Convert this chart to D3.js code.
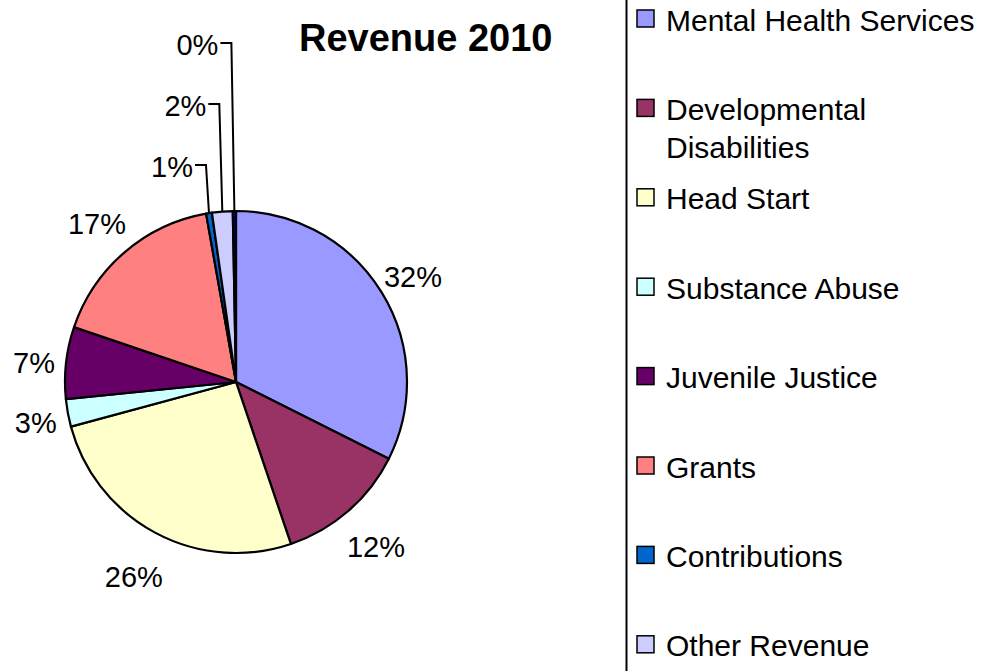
<!DOCTYPE html>
<html>
<head>
<meta charset="utf-8">
<script src="https://cdn.jsdelivr.net/npm/d3@7"></script>
<style>
  body { margin: 0; background: #fff; }
  svg { display: block; font-family: "Liberation Sans", Arial, sans-serif; }
</style>
</head>
<body>
<div id="chart"></div>
<script>
// revenue categories, in the order the pie is drawn (clockwise from 12 o'clock)
var categories = ['Mental Health Services', 'Developmental Disabilities', 'Head Start',
    'Substance Abuse', 'Juvenile Justice', 'Grants', 'Contributions', 'Other Revenue', 'Miscellaneous'];
// share of revenue, percent
var values = [32.4, 12.4, 26.0, 2.6, 6.8, 17.0, 0.55, 1.95, 0.3];
var colors = ['#9999ff', '#993366', '#ffffcc', '#ccffff', '#660066', '#ff8080', '#0066cc', '#ccccff', '#000080'];
var title = 'Revenue 2010';

var width = 983, height = 671;
var svg = d3.select('#chart')
    .append('svg')
    .attr('width', width)
    .attr('height', height);

var cx = 236, cy = 382, radius = 171;

var total = d3.sum(values);
var data = categories.map(function(c, i) {
    return { name: c, value: values[i], color: colors[i] };
});

var pie = d3.pie().sort(null).value(function(d) { return d.value; });
var arc = d3.arc().innerRadius(0).outerRadius(radius);
var arcs = pie(data);

var g = svg.append('g').attr('transform', 'translate(' + cx + ',' + cy + ')');

g.selectAll('path')
    .data(arcs)
    .enter()
    .append('path')
    .attr('d', arc)
    .attr('fill', function(d) { return d.data.color; })
    .attr('stroke', '#000')
    .attr('stroke-width', 2.2)
    .attr('stroke-linejoin', 'round');

// percentage labels
var pct = function(d) { return Math.round(d.data.value / total * 100) + '%'; };
var mid = function(d) { return (d.startAngle + d.endAngle) / 2; };
var isSmall = function(d) { return d.data.value / total < 0.025; };

var big = arcs.filter(function(d) { return !isSmall(d); });
var small = arcs.filter(isSmall);

// labels sit a bit closer to the pie at the sides than at top/bottom
var labelR = function(d) {
    var s = Math.sin(mid(d));
    return radius + 50 - 18 * s * s;
};

g.selectAll('.lbl')
    .data(big)
    .enter()
    .append('text')
    .attr('class', 'lbl')
    .attr('x', function(d) { return labelR(d) * Math.sin(mid(d)); })
    .attr('y', function(d) { return -labelR(d) * Math.cos(mid(d)) + 4; })
    .attr('text-anchor', 'middle')
    .attr('dominant-baseline', 'central')
    .attr('font-size', '29px')
    .text(pct);

// tiny slices get stacked labels above the pie with leader lines
small.forEach(function(d, j) {
    var px = radius * Math.sin(mid(d));
    var py = -radius * Math.cos(mid(d));
    var ly = -radius - 46 - j * 61;
    var ex = px - 3;
    g.append('polyline')
        .attr('points', [[px, py], [ex, ly], [ex - 11, ly]].join(' '))
        .attr('fill', 'none')
        .attr('stroke', '#000')
        .attr('stroke-width', 2);
    g.append('text')
        .attr('x', ex - 13)
        .attr('y', ly + 2)
        .attr('text-anchor', 'end')
        .attr('dominant-baseline', 'central')
        .attr('font-size', '29px')
        .text(pct(d));
});

// title
svg.append('text')
    .attr('x', 299)
    .attr('y', 51)
    .attr('font-size', '38px')
    .attr('font-weight', 'bold')
    .text(title);

// legend (box runs past the bottom of the picture, entries below it are not shown)
svg.append('line')
    .attr('x1', 626.5).attr('x2', 626.5)
    .attr('y1', 0).attr('y2', height)
    .attr('stroke', '#000')
    .attr('stroke-width', 2);

var top0 = 18.5, step = 89.4;
var shown = data.filter(function(d, i) { return top0 + i * step + 20 < height; });

var item = svg.append('g').selectAll('.item')
    .data(shown)
    .enter()
    .append('g')
    .attr('class', 'item')
    .attr('transform', function(d, i) { return 'translate(637,' + (top0 + i * step) + ')'; });

item.append('rect')
    .attr('x', 0)
    .attr('y', -8.5)
    .attr('width', 17)
    .attr('height', 17)
    .attr('fill', function(d) { return d.color; })
    .attr('stroke', '#000')
    .attr('stroke-width', 1.5);

item.append('text')
    .attr('x', 29)
    .attr('y', 1)
    .attr('dominant-baseline', 'central')
    .attr('font-size', '30px')
    .each(function(d) {
        // simple word wrap to the space right of the marker
        var el = d3.select(this);
        var words = d.name.split(' ');
        var line = [];
        var tspan = el.append('tspan').attr('x', 29).attr('dy', 0);
        words.forEach(function(w) {
            line.push(w);
            tspan.text(line.join(' '));
            if (tspan.node().getComputedTextLength() > 315 && line.length > 1) {
                line.pop();
                tspan.text(line.join(' '));
                line = [w];
                tspan = el.append('tspan').attr('x', 29).attr('dy', 38).text(w);
            }
        });
    });
</script>
</body>
</html>
